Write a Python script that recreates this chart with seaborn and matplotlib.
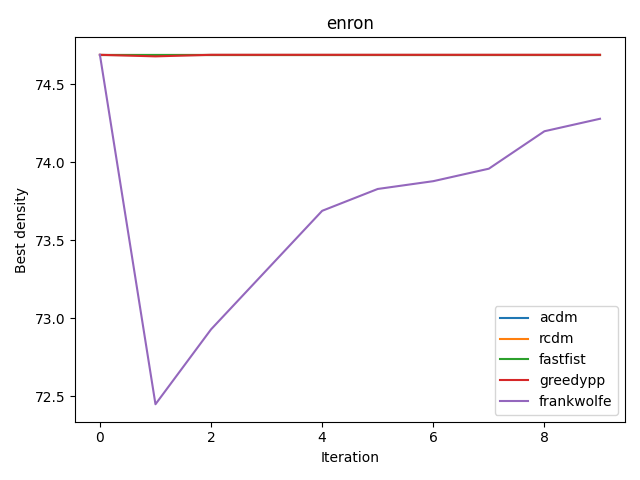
import matplotlib
matplotlib.use("Agg")
import pandas as pd
import seaborn as sns
from matplotlib import pyplot as plt

iterations = list(range(10))
acdm = [74.69] * 10
rcdm = [74.69] * 10
fastfist = [74.69] * 10
greedypp = [74.69, 74.68, 74.69, 74.69, 74.69, 74.69, 74.69, 74.69, 74.69, 74.69]
frankwolfe = [74.69, 72.45, 72.93, 73.31, 73.69, 73.83, 73.88, 73.96, 74.20, 74.28]

methods = ["acdm", "rcdm", "fastfist", "greedypp", "frankwolfe"]
series = [acdm, rcdm, fastfist, greedypp, frankwolfe]

df = pd.concat(
    [pd.DataFrame({"Iteration": iterations, "Best density": s, "method": m})
     for m, s in zip(methods, series)],
    ignore_index=True,
)

fig, ax = plt.subplots(figsize=(6.4, 4.8), dpi=100)
sns.lineplot(data=df, x="Iteration", y="Best density", hue="method",
             palette="tab10", ax=ax)
ax.legend(loc="lower right")
ax.set_title("enron")
fig.tight_layout()
fig.savefig("out.png")
